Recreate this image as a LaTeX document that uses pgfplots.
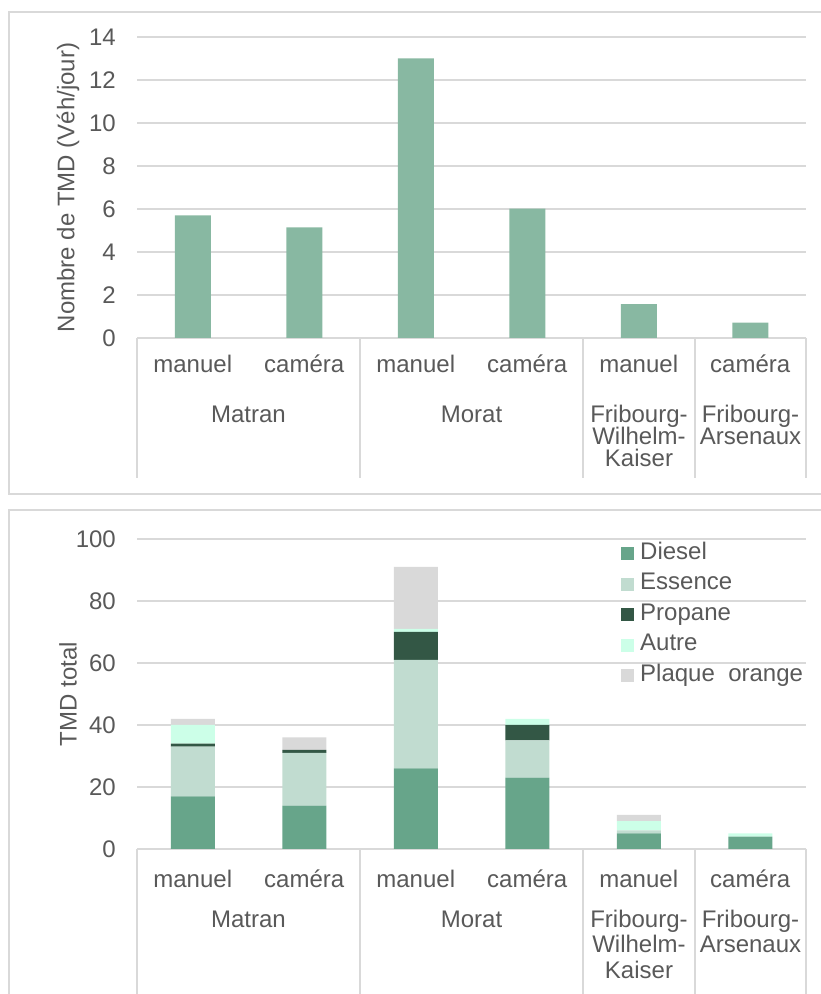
\documentclass[border=0pt]{standalone}
\usepackage{fontspec}
\setmainfont{Liberation Sans}
\usepackage{pgfplots}
\pgfplotsset{compat=1.18}
\definecolor{txt}{HTML}{595959}
\definecolor{gridc}{HTML}{D9D9D9}
\definecolor{bartop}{HTML}{88B8A2}
\definecolor{diesel}{HTML}{67A58A}
\definecolor{essence}{HTML}{C1DCD0}
\definecolor{propane}{HTML}{335745}
\definecolor{autre}{HTML}{CCFFE8}
\definecolor{plaque}{HTML}{D9D9D9}
\newcommand{\lblfont}{\fontsize{24}{26}\selectfont}
\pgfplotsset{
 mystyle/.style={
  scale only axis, width=669pt,
  xmin=-0.5, xmax=5.5, xtick={0,...,5},
  xticklabels={manuel,caméra,manuel,caméra,manuel,caméra},
  separate axis lines,
  x axis line style={draw=gridc, line width=1.4pt},
  y axis line style={draw=none},
  major tick length=0pt,
  ymajorgrids, grid style={draw=gridc, line width=1.4pt},
  tick label style={font=\lblfont, text=txt},
  /pgf/number format/assume math mode=true,
  yticklabel style={anchor=east, inner sep=0pt, xshift=-21pt},
  every axis y label/.style={at={(rel axis cs:0,0.5)}, rotate=90, anchor=center, yshift=69pt, font=\lblfont, text=txt},
  clip=false,
 }}
\begin{document}
\begin{tikzpicture}
\path[use as bounding box, clip] (0pt,0pt) rectangle (821pt,994pt);
% frames
\draw[gridc, line width=1.5pt] (9pt,982pt) rectangle (840pt,500pt);
\draw[gridc, line width=1.5pt] (9pt,484pt) rectangle (840pt,-20pt);

\begin{axis}[mystyle, at={(137pt,656pt)}, anchor=south west, height=301pt,
  ymin=0, ymax=14, ytick={0,2,...,14},
  ylabel={Nombre de TMD (Véh/jour)},
  xticklabel style={anchor=base, inner sep=0pt, yshift=-35pt},
  ybar, bar width=36pt]
\addplot[fill=bartop, draw=none] coordinates {(0,5.70) (1,5.14) (2,13.0) (3,6.02) (4,1.57) (5,0.72)};
\end{axis}

\begin{axis}[mystyle, at={(137pt,145pt)}, anchor=south west, height=310pt,
  ymin=0, ymax=100, ytick={0,20,...,100},
  ylabel={TMD total},
  xticklabel style={anchor=base, inner sep=0pt, yshift=-38pt},
  ybar stacked, bar width=44pt,
  legend style={at={(rel axis cs:0.7235,0.99)}, anchor=north west, draw=none, fill=none,
    font=\lblfont, text=txt, inner sep=0pt, row sep=7.5pt, column sep=6pt,
    nodes={inner sep=0pt, text height=17pt, text depth=6pt}},
  legend cell align=left,
  legend image code/.code={\fill[#1] (0pt,-6.5pt) rectangle (13pt,6.5pt);}]
\addplot[fill=diesel, draw=none] coordinates {(0,17) (1,14) (2,26) (3,23) (4,5) (5,4)};
\addplot[fill=essence, draw=none] coordinates {(0,16) (1,17) (2,35) (3,12) (4,1) (5,0)};
\addplot[fill=propane, draw=none] coordinates {(0,1) (1,1) (2,9) (3,5) (4,0) (5,0)};
\addplot[fill=autre, draw=none] coordinates {(0,6) (1,0) (2,1) (3,2) (4,3) (5,1)};
\addplot[fill=plaque, draw=none] coordinates {(0,2) (1,4) (2,20) (3,0) (4,2) (5,0)};
\legend{Diesel,Essence,Propane,Autre,Plaque\ \ orange}
\end{axis}

% category separators
\foreach \xx in {137,360,583,695,806} {
  \draw[gridc, line width=1.4pt] (\xx pt,656pt) -- (\xx pt,516pt);
  \draw[gridc, line width=1.4pt] (\xx pt,145pt) -- (\xx pt,-5pt);
}
% group labels
\begin{scope}[every node/.style={font=\lblfont, text=txt, anchor=base, inner sep=0pt}]
\node at (248.5pt,571pt) {Matran};
\node at (471.5pt,571pt) {Morat};
\node at (639pt,571pt) {Fribourg-};
\node at (639pt,549pt) {Wilhelm-};
\node at (639pt,527pt) {Kaiser};
\node at (750.5pt,571pt) {Fribourg-};
\node at (750.5pt,549pt) {Arsenaux};
\node at (248.5pt,66pt) {Matran};
\node at (471.5pt,66pt) {Morat};
\node at (639pt,66pt) {Fribourg-};
\node at (639pt,41pt) {Wilhelm-};
\node at (639pt,16pt) {Kaiser};
\node at (750.5pt,66pt) {Fribourg-};
\node at (750.5pt,41pt) {Arsenaux};
\end{scope}
\end{tikzpicture}
\end{document}
